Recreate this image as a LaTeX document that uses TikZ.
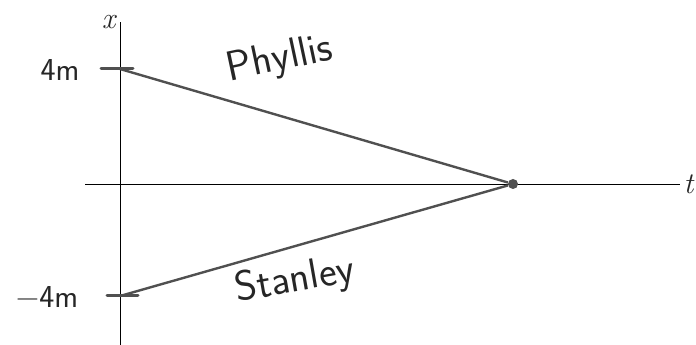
\documentclass[tikz,border=0pt]{standalone}
\usepackage{fontspec}
\usepackage{tikz}
\usetikzlibrary{positioning, calc}
\definecolor{wlgray}{RGB}{80,80,80}

\begin{document}
\begin{tikzpicture}[x=1pt, y=1pt,
  axis/.style={line width=0.9pt, black},
  tick/.style={line width=3pt, wlgray, line cap=round},
  wline/.style={line width=2.4pt, wlgray},
  hand/.style={font=\fontsize{42}{42}\selectfont\sffamily, text=black!85},
  small hand/.style={font=\fontsize{32}{32}\selectfont\sffamily, text=black!85},
  lbl/.style={font=\fontsize{30}{30}\selectfont\itshape, text=black!85}
]
  \useasboundingbox (0,0) rectangle (696,345);
  %% Axes
  \coordinate (xbot) at (120,0);
  \coordinate (xtop) at (120,323);
  \coordinate (tl)   at (85,161);
  \coordinate (tr)   at (680,161);
  \draw[axis] (xbot) -- (xtop);
  \draw[axis] (tl) -- (tr);
  \node[lbl, left=1pt] (xlab) at (xtop) {x};
  \node[lbl, right=0pt] (tlab) at (tr) {t};

  %% Ticks at +-4m
  \coordinate (ptop) at (120,276);
  \coordinate (pbot) at (120,49);
  \draw[tick] (101,276) -- (133,276);
  \draw[tick] (107,49) -- (138,49);
  \node[small hand] (ptopl) at (60,275) {4m};
  \node[small hand] (pbotl) at (47,48) {−4m};

  %% Meeting event
  \node[circle, fill=wlgray, inner sep=0pt, minimum size=10pt] (ev) at (513,161) {};
  \draw[wline] (ptop) -- (ev);
  \draw[wline] (pbot) -- (ev);

  %% Names
  \node[hand, rotate=12] (phy) at (280,285) {Phyllis};
  \node[hand, rotate=10] (sta) at (295,64) {Stanley};
\end{tikzpicture}
\end{document}
